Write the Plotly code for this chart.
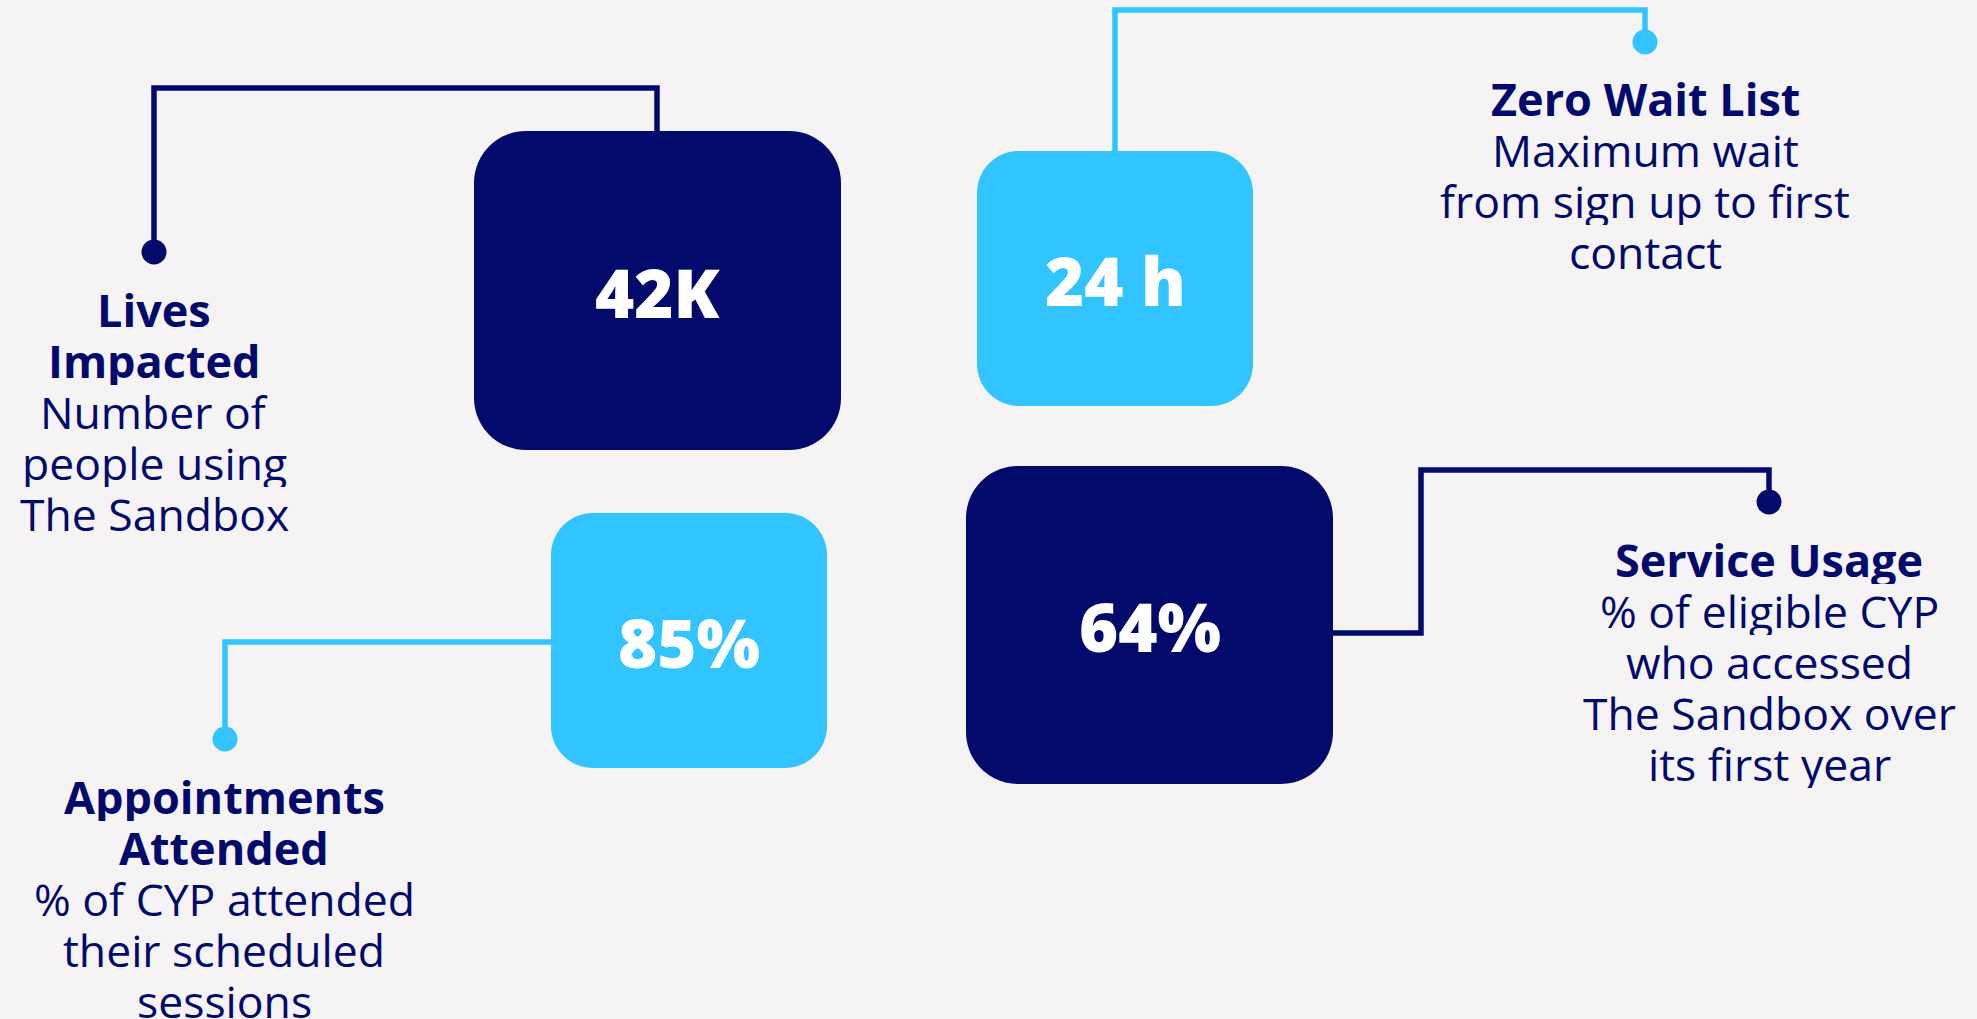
import plotly.graph_objects as go

# ---------------- data ----------------
values = ["42K", "24 h", "85%", "64%"]
title_lines = [
    ["Lives", "Impacted"],
    ["Zero Wait List"],
    ["Appointments", "Attended"],
    ["Service Usage"],
]
desc_lines = [
    ["Number of", "people using", "The Sandbox"],
    ["Maximum wait", "from sign up to first", "contact"],
    ["% of CYP attended", "their scheduled", "sessions"],
    ["% of eligible CYP", "who accessed", "The Sandbox over", "its first year"],
]
card_tone = ["navy", "cyan", "cyan", "navy"]

# ---------------- layout / style ----------------
W, H = 1977, 1019
BG = "#F6F3F4"
COLORS = {"navy": "#020A6B", "cyan": "#31C4FE"}
TEXT = "#020A6B"
FONT = "Open Sans"

# box: (x0, x1, y0, y1, radius); connector polyline; label centre x, first-line y
cards_layout = [
    dict(box=(474, 841, 131, 450, 52),
         path=[(657, 131), (657, 88), (154, 88), (154, 252)],
         lx=154, ly=309),
    dict(box=(977, 1253, 151, 406, 42),
         path=[(1115, 151), (1115, 10), (1645, 10), (1645, 42)],
         lx=1645, ly=98),
    dict(box=(551, 827, 513, 768, 42),
         path=[(551, 642), (225, 642), (225, 739)],
         lx=224, ly=796),
    dict(box=(966, 1333, 466, 784, 52),
         path=[(1333, 633), (1421, 633), (1421, 470), (1769, 470), (1769, 502)],
         lx=1769, ly=559),
]
LINE_GAP = 51
BOX_H = 50
DOT_R = 12.5
LINE_W = 5.5
SIZE_TITLE = 45
SIZE_DESC = 44.5
SIZE_VALUE = 67


def rounded_rect(x0, x1, y0, y1, r):
    k = 0.5523 * r
    return (
        f"M {x0 + r},{y0} L {x1 - r},{y0} "
        f"C {x1 - r + k},{y0} {x1},{y0 + r - k} {x1},{y0 + r} "
        f"L {x1},{y1 - r} "
        f"C {x1},{y1 - r + k} {x1 - r + k},{y1} {x1 - r},{y1} "
        f"L {x0 + r},{y1} "
        f"C {x0 + r - k},{y1} {x0},{y1 - r + k} {x0},{y1 - r} "
        f"L {x0},{y0 + r} "
        f"C {x0},{y0 + r - k} {x0 + r - k},{y0} {x0 + r},{y0} Z"
    )


shapes = []
annotations = []

for i, cl in enumerate(cards_layout):
    col = COLORS[card_tone[i]]
    # connector
    pts = cl["path"]
    p = "M " + " L ".join(f"{x},{y}" for x, y in pts)
    shapes.append(dict(type="path", path=p, xref="x", yref="y",
                       line=dict(color=col, width=LINE_W),
                       fillcolor="rgba(0,0,0,0)", layer="below"))
    # dot
    dx, dy = pts[-1]
    shapes.append(dict(type="circle", xref="x", yref="y",
                       x0=dx - DOT_R, x1=dx + DOT_R, y0=dy - DOT_R, y1=dy + DOT_R,
                       fillcolor=col, line=dict(width=0), layer="below"))
    # box
    x0, x1, y0, y1, r = cl["box"]
    shapes.append(dict(type="path", path=rounded_rect(x0, x1, y0, y1, r),
                       xref="x", yref="y", fillcolor=col, line=dict(width=0),
                       layer="above"))
    # value
    annotations.append(dict(x=(x0 + x1) / 2, y=(y0 + y1) / 2 + 1, xref="x", yref="y",
                            text=values[i], showarrow=False,
                            xanchor="center", yanchor="middle",
                            font=dict(family=FONT, size=SIZE_VALUE, color="white", weight=800)))
    # label lines
    y = cl["ly"]
    for t in title_lines[i]:
        annotations.append(dict(x=cl["lx"], y=y, xref="x", yref="y", text=t,
                                showarrow=False, xanchor="center", yanchor="middle",
                                height=BOX_H, valign="middle",
                                font=dict(family=FONT, size=SIZE_TITLE, color=TEXT, weight=700)))
        y += LINE_GAP
    for t in desc_lines[i]:
        annotations.append(dict(x=cl["lx"], y=y, xref="x", yref="y", text=t,
                                showarrow=False, xanchor="center", yanchor="middle",
                                height=BOX_H, valign="middle",
                                font=dict(family=FONT, size=SIZE_DESC, color=TEXT)))
        y += LINE_GAP

fig = go.Figure()
fig.add_trace(go.Scatter(x=[0, W], y=[0, H], mode="markers",
                         marker=dict(opacity=0), hoverinfo="skip", showlegend=False))
fig.update_layout(
    width=W, height=H, autosize=False,
    margin=dict(l=0, r=0, t=0, b=0),
    paper_bgcolor=BG, plot_bgcolor=BG,
    xaxis=dict(range=[0, W], visible=False, fixedrange=True),
    yaxis=dict(range=[H, 0], visible=False, fixedrange=True),
    shapes=shapes, annotations=annotations, showlegend=False,
)

fig.write_html("out.html", config={"displayModeBar": False},
               post_script="document.body.style.margin='0';document.body.style.overflow='hidden';")
